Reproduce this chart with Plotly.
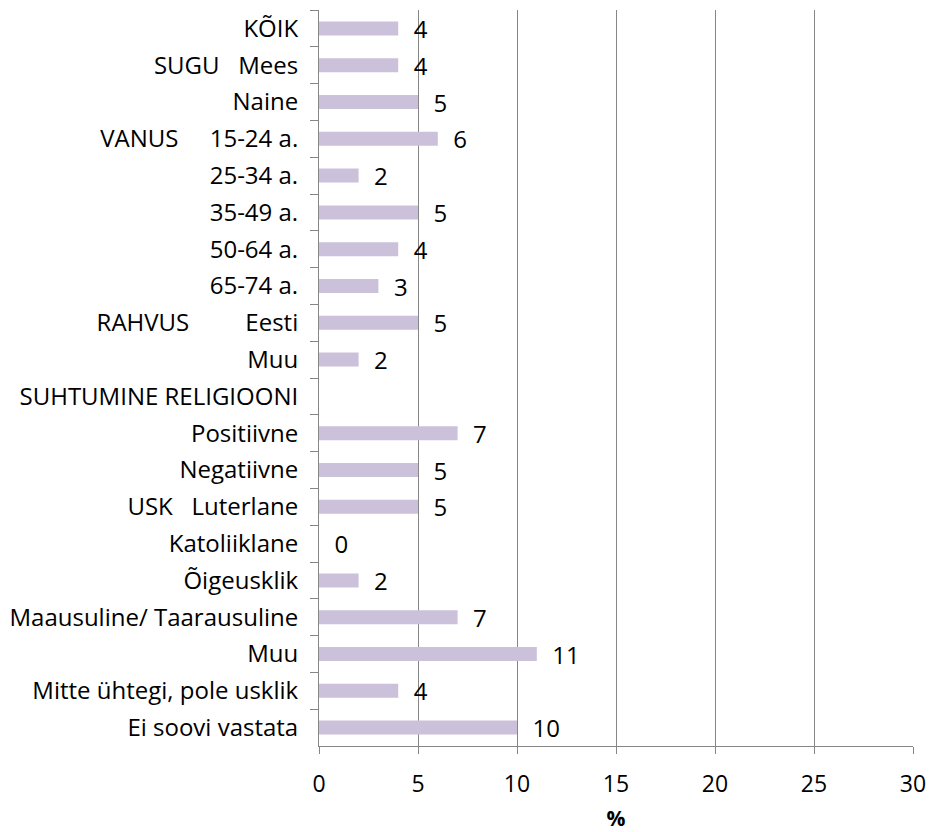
import plotly.graph_objects as go

NB = "\u00a0"

categories = [
    "KÕIK",
    "SUGU" + NB * 3 + "Mees",
    "Naine",
    "VANUS" + NB * 5 + "15-24 a.",
    "25-34 a.",
    "35-49 a.",
    "50-64 a.",
    "65-74 a.",
    "RAHVUS" + NB * 9 + "Eesti",
    "Muu",
    "SUHTUMINE RELIGIOONI",
    "Positiivne",
    "Negatiivne",
    "USK" + NB * 3 + "Luterlane",
    "Katoliiklane",
    "Õigeusklik",
    "Maausuline/ Taarausuline",
    "Muu\u200b",
    "Mitte ühtegi, pole usklik",
    "Ei soovi vastata",
]
values = [4, 4, 5, 6, 2, 5, 4, 3, 5, 2, None, 7, 5, 5, 0, 2, 7, 11, 4, 10]
x_ticks = [0, 5, 10, 15, 20, 25, 30]

labels = ["" if v is None else NB * 2 + str(v) for v in values]

FONT = "'Open Sans', sans-serif"
AXIS_GREY = "#868686"

fig = go.Figure()
fig.add_trace(go.Bar(
    y=categories,
    x=values,
    orientation="h",
    marker_color="#ccc1da",
    marker_line_width=0,
    text=labels,
    textposition="outside",
    constraintext="none",
    textfont=dict(family=FONT, size=24, color="black"),
    cliponaxis=False,
    hoverinfo="x+y",
))

fig.update_layout(
    width=930,
    height=832,
    bargap=0.62,
    showlegend=False,
    margin=dict(l=319, r=17, t=10, b=86, autoexpand=False),
    plot_bgcolor="white",
    paper_bgcolor="white",
    font=dict(family=FONT, size=24, color="black"),
    xaxis=dict(
        range=[0, 30],
        tickvals=x_ticks,
        tickfont=dict(size=23),
        showgrid=True,
        gridcolor=AXIS_GREY,
        gridwidth=1,
        showline=True,
        linecolor=AXIS_GREY,
        ticks="outside",
        ticklen=7,
        tickcolor=AXIS_GREY,
        zeroline=False,
        ticklabelstandoff=10,
        title=dict(text="<b>%</b>", font=dict(size=21), standoff=22),
    ),
    yaxis=dict(
        type="category",
        autorange="reversed",
        showline=True,
        linecolor=AXIS_GREY,
        ticks="outside",
        tickson="boundaries",
        ticklen=8,
        tickcolor=AXIS_GREY,
        showgrid=False,
        ticklabelstandoff=15,
    ),
)

# drop the default body margin so the figure fills the window exactly
fig.write_html(
    "out.html",
    config={"displayModeBar": False},
    post_script="document.body.style.margin='0';",
)
